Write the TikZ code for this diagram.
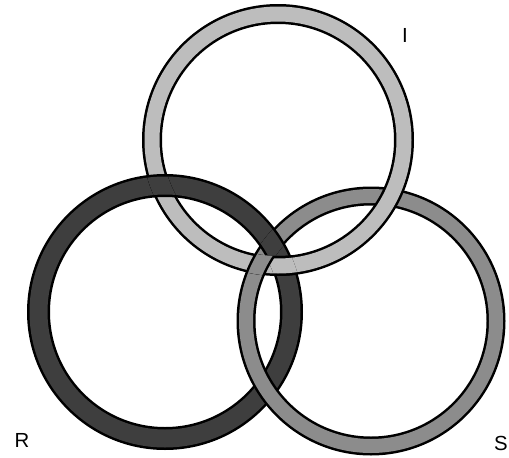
\documentclass[tikz,border=0pt]{standalone}
\usepackage{fontspec}
\setmainfont{Liberation Sans}
\usetikzlibrary{positioning}

\definecolor{grisI}{HTML}{BDBDBD}
\definecolor{grisR}{HTML}{3E3E3E}
\definecolor{grisS}{HTML}{8C8C8C}

% Anillo: centro, radio medio, grosor (px), color
\newcommand{\anillo}[4]{%
  \draw[line width=#3*1.4226pt, black] #1 circle (#2);
  \draw[line width=(#3-5)*1.4226pt, #4] #1 circle (#2);
}
\newcommand{\anilloI}{\anillo{(278,140)}{126}{20}{grisI}}
\newcommand{\anilloR}{\anillo{(165,312)}{126.5}{23}{grisR}}
\newcommand{\anilloS}{\anillo{(371,321)}{125}{19}{grisS}}

% Banda de un anillo (para recortar): centro x, centro y, radio ext., radio int.
\newcommand{\banda}[4]{%
  \clip (#1+#3,#2) arc[start angle=0, end angle=360, radius=#3]
    -- (#1+#4,#2) arc[start angle=0, end angle=-360, radius=#4] -- cycle;
}

\begin{document}
\begin{tikzpicture}[
    x=0.05cm, y=-0.05cm,
    letra/.style={font=\fontsize{29}{34}\selectfont, inner sep=0pt}
]
\useasboundingbox (0,0) rectangle (509,458);

% Anillos
\anilloR
\anilloS
\anilloI

% Cruce arriba a la izquierda: R sobre I
\begin{scope}
  \clip (161,186) circle (30);
  \banda{278}{140}{136}{116}
  \anilloR
\end{scope}

% Cruces del centro
\begin{scope}
  \clip (273,247) circle (18);
  \banda{371}{321}{134.5}{115.5}
  \anilloR
\end{scope}
\begin{scope}
  \clip (283,266) circle (18);
  \banda{165}{312}{138}{115}
  \anilloI
\end{scope}
\begin{scope}
  \clip (262,265) circle (18);
  \banda{278}{140}{136}{116}
  \anilloS
\end{scope}

% Letras
\node (I) [letra] at (405,35) {I};
\node (R) [letra] at (22,440) {R};
\node (S) [letra] at (501,443) {S};

\end{tikzpicture}
\end{document}
